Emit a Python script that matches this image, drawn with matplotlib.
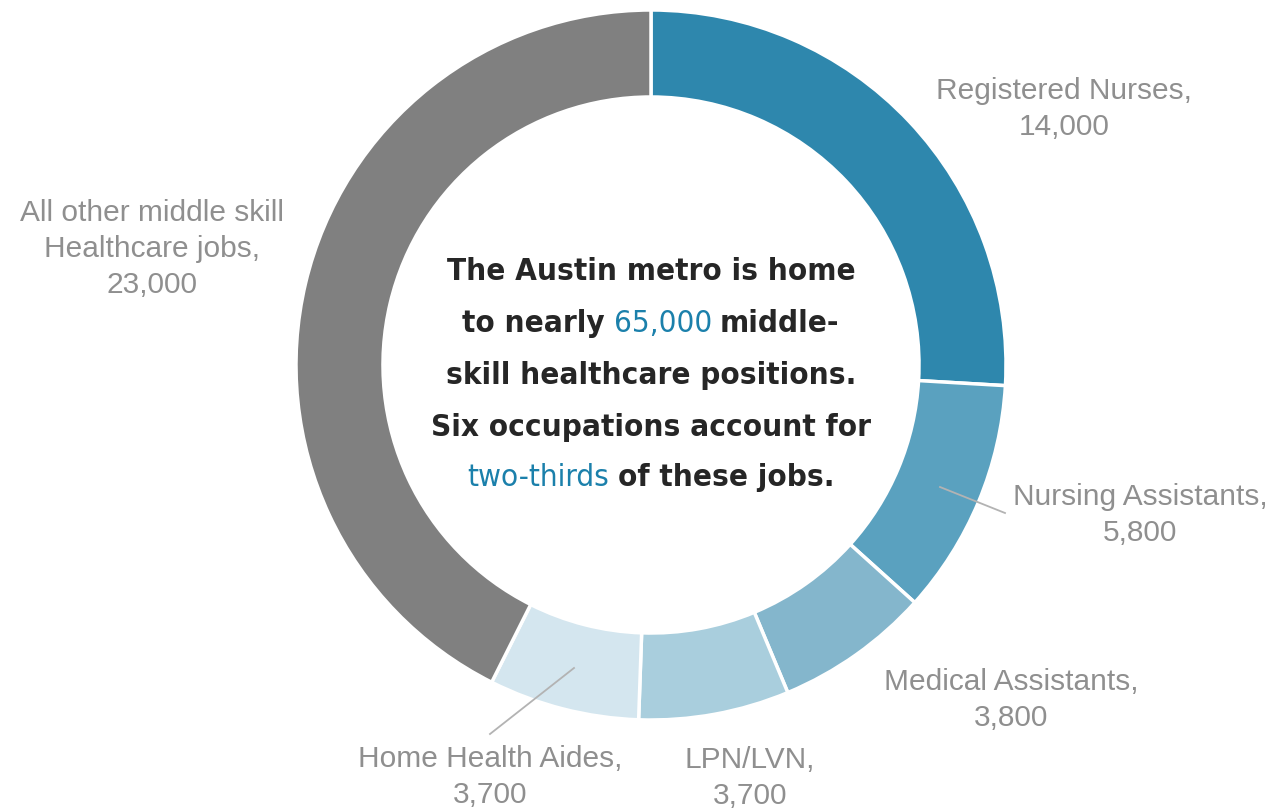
import matplotlib
matplotlib.use('Agg')
import matplotlib.pyplot as plt
from matplotlib import font_manager
from matplotlib.font_manager import FontProperties
from matplotlib.offsetbox import TextArea, HPacker, AnnotationBbox

# Данные
jobs = ['Registered Nurses', 'Nursing Assistants', 'Medical Assistants',
        'LPN/LVN', 'Home Health Aides', 'All other middle skill\nHealthcare jobs']
counts = [14000, 5800, 3800, 3700, 3700, 23000]
colors = ['#2E87AD', '#5AA1BF', '#84B6CC', '#A9CEDD', '#D4E6EF', '#808080']

center_lines = [
    [('The Austin metro is home', False)],
    [('to nearly', False), ('65,000', True), ('middle-', False)],
    [('skill healthcare positions.', False)],
    [('Six occupations account for', False)],
    [('two-thirds', True), ('of these jobs.', False)],
]


# ищем узкий шрифт, если он есть
def find_narrow(bold):
    for f in font_manager.fontManager.ttflist:
        fn = f.fname.lower()
        if ('narrow' in fn or 'condensed' in fn) and 'oblique' not in fn and 'italic' not in fn:
            isbold = f.weight in ('bold', 700) or 'bold' in fn
            if isbold == bold:
                return f.fname
    return None

fb, fr = find_narrow(True), find_narrow(False)
if fb and fr:
    fp_bold, fp_reg = FontProperties(fname=fb, size=22.5), FontProperties(fname=fr, size=22.5)
    sep = 6
else:
    fp_bold = FontProperties(family='DejaVu Sans', weight='bold', size=19)
    fp_reg = FontProperties(family='DejaVu Sans', weight='normal', size=19)
    sep = 5.5

# центр кольца в пикселях и радиус
CX, CY, R = 651, 365, 355


def P(px, py):
    return (px - CX) / R, (CY - py) / R


fig = plt.figure(figsize=(12.78, 8.10), dpi=100)
ax = fig.add_axes([0, 0, 1, 1])

ax.pie(counts, colors=colors, startangle=90, counterclock=False, radius=1,
       wedgeprops=dict(width=0.245, edgecolor='white', linewidth=2.5))

ax.set_xlim(P(0, 0)[0], P(1278, 0)[0])
ax.set_ylim(P(0, 810)[1], P(0, 0)[1])
ax.set_aspect('equal')
ax.axis('off')

gray = '#8F8F8F'
label_pos = [(1064, 109), (1140, 515), (1011, 700), (750, 778), (490, 777), (152, 249)]
for name, n, (px, py) in zip(jobs, counts, label_pos):
    x, y = P(px, py)
    ax.text(x, y, f'{name},\n{n:,}', ha='center', va='center', color=gray,
            fontsize=21.5, family='Liberation Sans', linespacing=1.35)

# выноски
ax.plot(*zip(P(940, 487), P(1005, 513)), color='#B3B3B3', lw=1.3)
ax.plot(*zip(P(574, 668), P(490, 734)), color='#B3B3B3', lw=1.3)

# текст в центре
line_y = [272, 324, 376, 427, 478]
for parts, py in zip(center_lines, line_y):
    boxes = []
    for txt, blue in parts:
        boxes.append(TextArea(txt, textprops=dict(
            fontproperties=fp_reg if blue else fp_bold,
            color='#1B80AB' if blue else '#262626')))
    row = HPacker(children=boxes, align='baseline', pad=0, sep=sep)
    ab = AnnotationBbox(row, P(CX, py), frameon=False, box_alignment=(0.5, 0.5))
    ax.add_artist(ab)

fig.savefig('out.png', dpi=100)
